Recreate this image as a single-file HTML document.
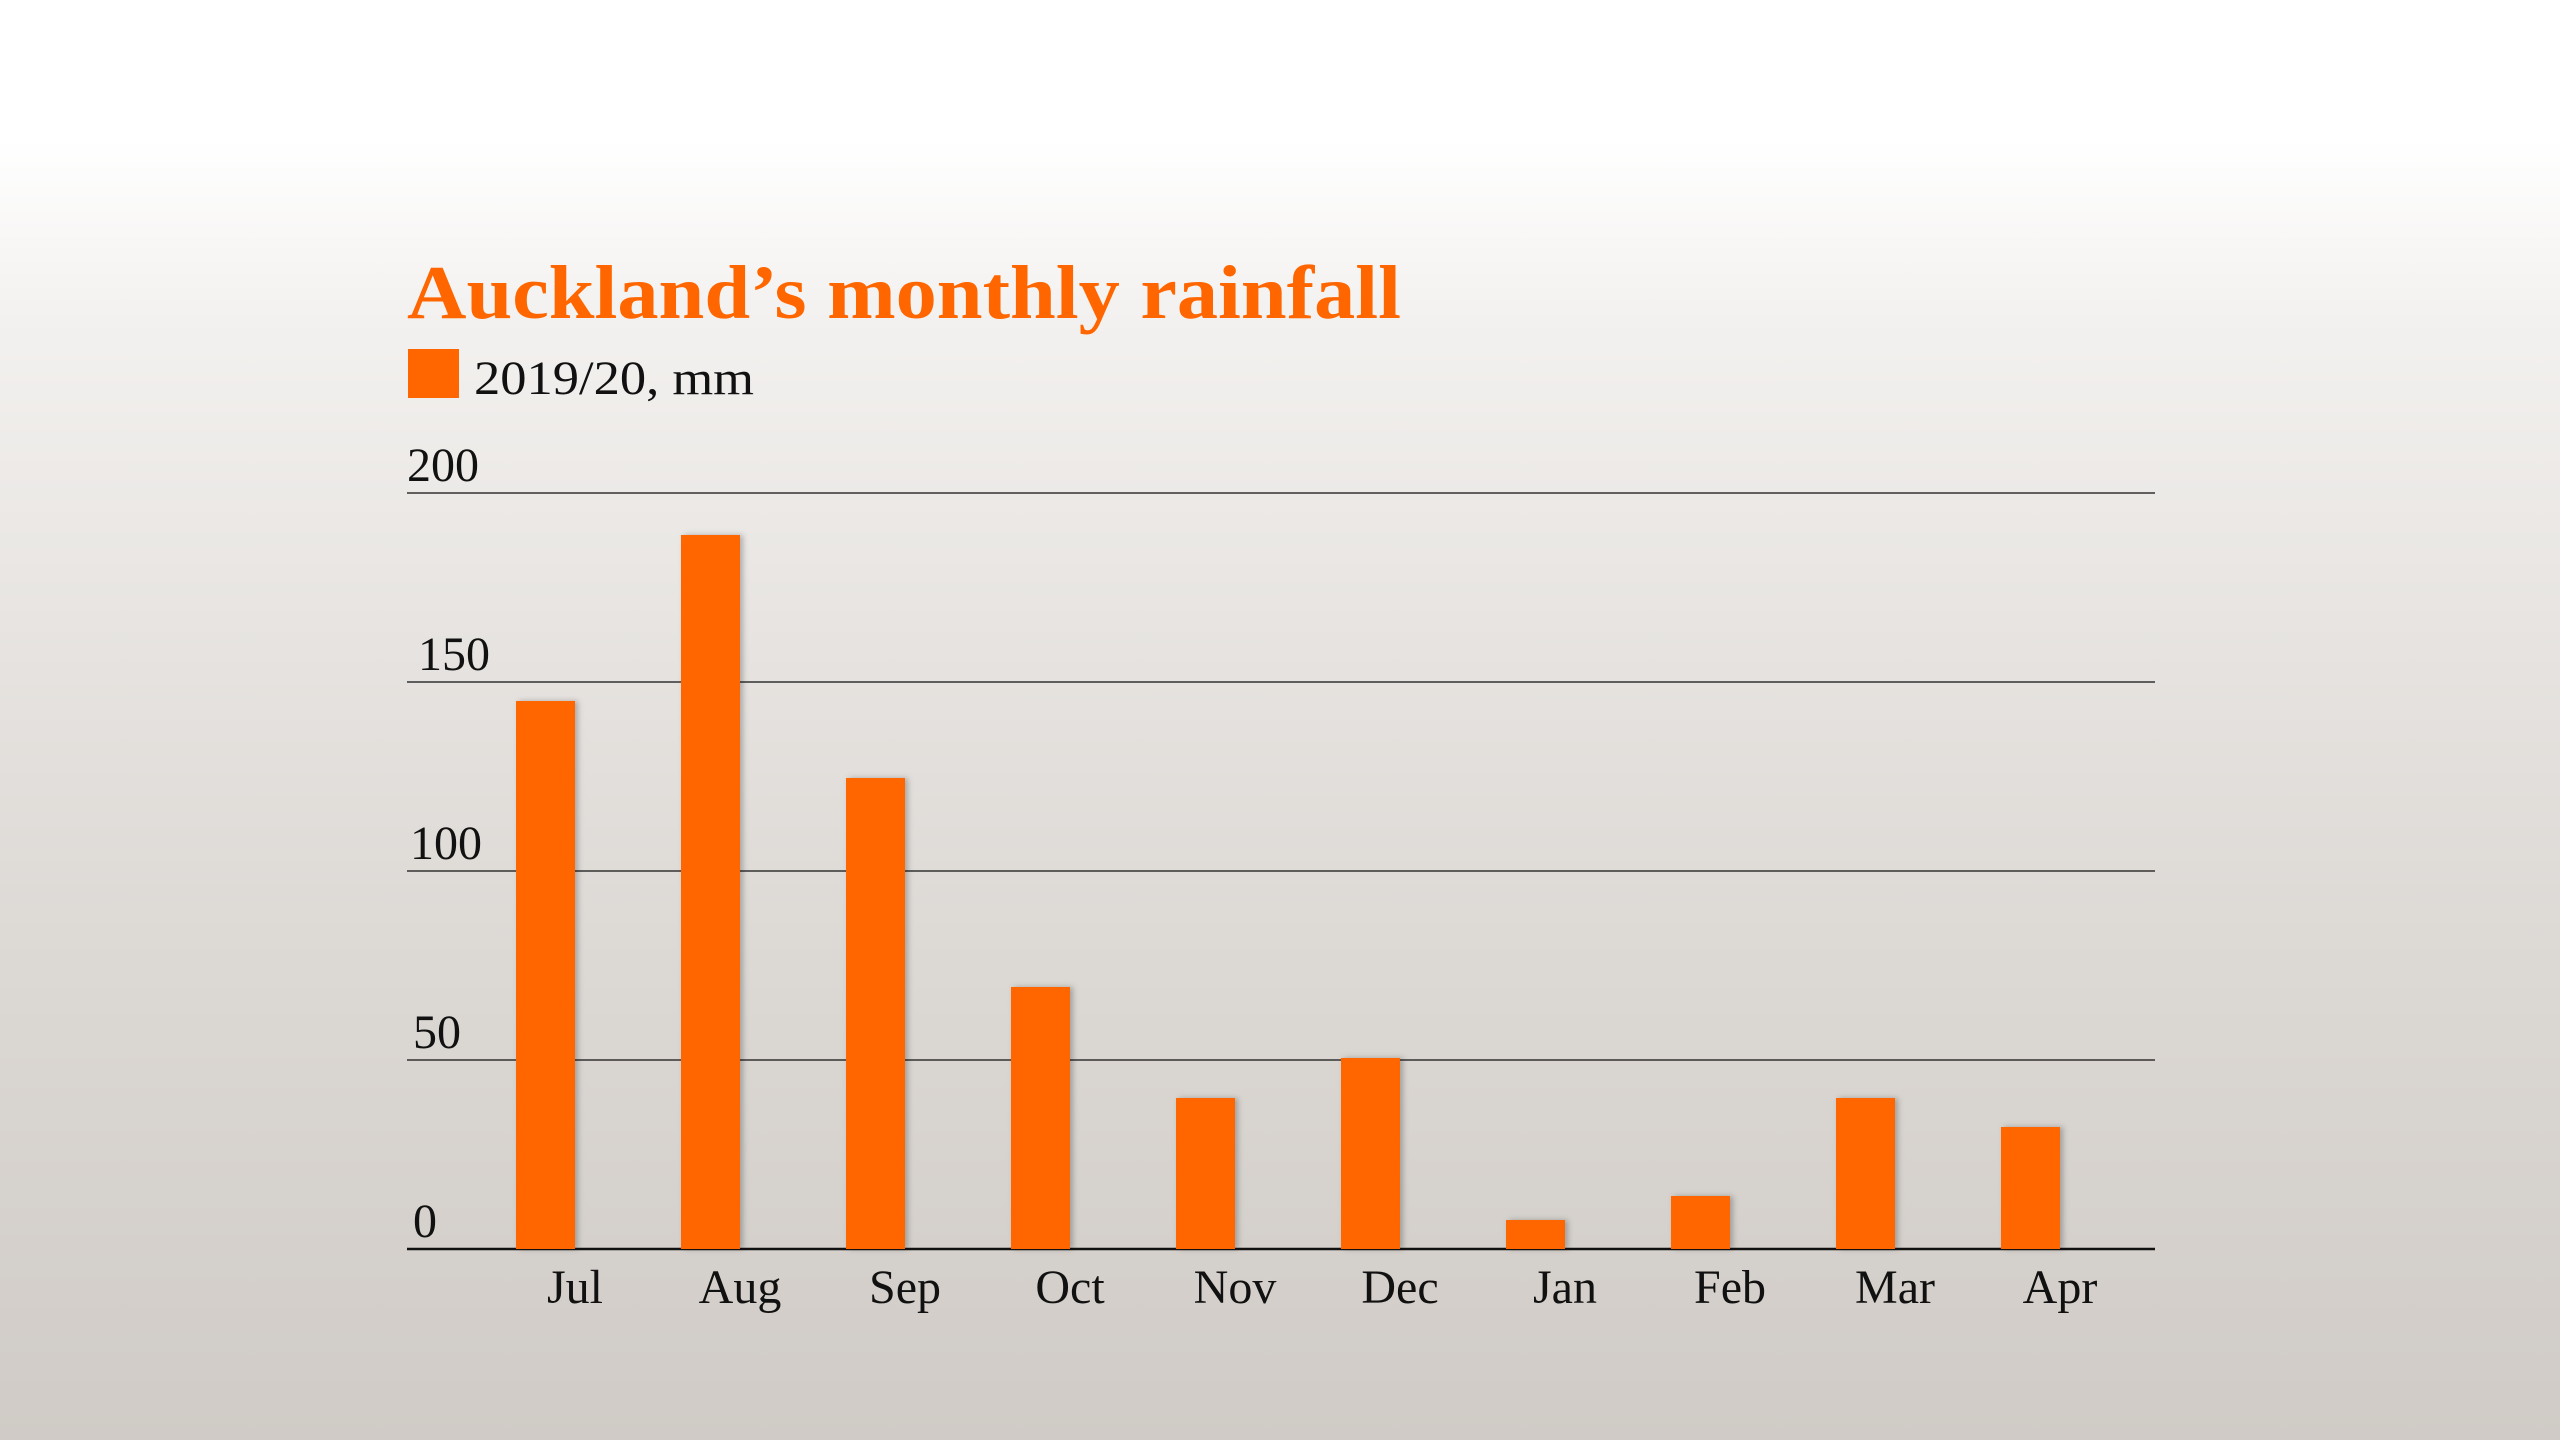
<!DOCTYPE html>
<html><head><meta charset="utf-8"><style>
html,body{margin:0;padding:0;width:2560px;height:1440px;overflow:hidden}
body{background:linear-gradient(to bottom,#ffffff 0px,#ffffff 140px,#f3f1ef 320px,#e6e3e0 650px,#dbd7d3 1000px,#d0cbc6 1440px)}
svg{position:absolute;left:0;top:0}
</style></head><body>
<svg width="2560" height="1440" viewBox="0 0 2560 1440" xmlns="http://www.w3.org/2000/svg">
<defs><filter id="sh" x="-20%" y="-5%" width="150%" height="110%"><feDropShadow dx="3" dy="0" stdDeviation="3" flood-color="#000" flood-opacity="0.25"/></filter></defs>
<text x="407" y="318" font-family="Liberation Serif, serif" font-weight="bold" font-size="76" fill="#ff6600" textLength="994" lengthAdjust="spacingAndGlyphs">Auckland’s monthly rainfall</text>
<rect x="408" y="349" width="51" height="49" fill="#ff6600"/>
<text x="474" y="394" font-family="Liberation Serif, serif" font-size="48" fill="#111" textLength="280" lengthAdjust="spacingAndGlyphs">2019/20, mm</text>
<g stroke="#333" stroke-width="1.5">
<line x1="407" y1="493" x2="2155" y2="493"/>
<line x1="407" y1="682" x2="2155" y2="682"/>
<line x1="407" y1="871" x2="2155" y2="871"/>
<line x1="407" y1="1060" x2="2155" y2="1060"/>
<line x1="407" y1="1249" x2="2155" y2="1249" stroke="#111" stroke-width="2.5"/>
</g>
<g font-family="Liberation Serif, serif" font-size="48" fill="#111">
<text x="407" y="481">200</text>
<text x="418" y="670">150</text>
<text x="410" y="859">100</text>
<text x="413" y="1048">50</text>
<text x="413" y="1237">0</text>
</g>
<g fill="#ff6600" filter="url(#sh)">
<rect x="516" y="701" width="59" height="548"/>
<rect x="681" y="535" width="59" height="714"/>
<rect x="846" y="778" width="59" height="471"/>
<rect x="1011" y="987" width="59" height="262"/>
<rect x="1176" y="1098" width="59" height="151"/>
<rect x="1341" y="1058" width="59" height="191"/>
<rect x="1506" y="1220" width="59" height="29"/>
<rect x="1671" y="1196" width="59" height="53"/>
<rect x="1836" y="1098" width="59" height="151"/>
<rect x="2001" y="1127" width="59" height="122"/>
</g>
<g font-family="Liberation Serif, serif" font-size="48" fill="#111" text-anchor="middle">
<text x="575" y="1303">Jul</text>
<text x="740" y="1303">Aug</text>
<text x="905" y="1303">Sep</text>
<text x="1070" y="1303">Oct</text>
<text x="1235" y="1303">Nov</text>
<text x="1400" y="1303">Dec</text>
<text x="1565" y="1303">Jan</text>
<text x="1730" y="1303">Feb</text>
<text x="1895" y="1303">Mar</text>
<text x="2060" y="1303">Apr</text>
</g>
</svg>
</body></html>
